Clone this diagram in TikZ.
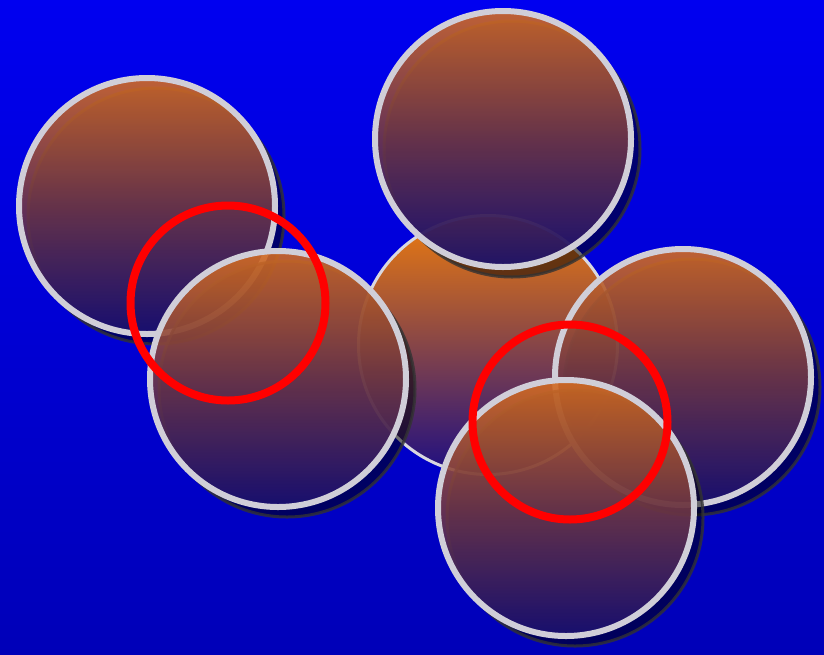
\documentclass[tikz,border=0pt]{standalone}
\usetikzlibrary{shadows}
\definecolor{bgTop}{RGB}{0,0,240}
\definecolor{bgBot}{RGB}{0,0,184}
\definecolor{ballTop}{RGB}{212,108,34}
\definecolor{ballMid}{RGB}{112,56,70}
\definecolor{ballBot}{RGB}{26,16,112}
\definecolor{hubTop}{RGB}{238,124,14}
\definecolor{hubBot}{RGB}{30,14,130}
\definecolor{rimGray}{RGB}{208,206,216}
\definecolor{ringRed}{RGB}{255,0,0}
\begin{document}
\begin{tikzpicture}[
	x=1pt, y=-1pt,
	ball/.style={ circle, inner sep=0pt, minimum size=256pt, top color=ballTop, bottom color=ballBot, middle color=ballMid, fill opacity=0.9, draw=rimGray, line width=6pt,
		drop shadow={ shadow xshift=9pt, shadow yshift=-10pt, fill=black, fill opacity=0.5, draw=black!80, draw opacity=0.8, line width=3pt } },
	hub/.style={ circle, inner sep=0pt, minimum size=259pt, top color=hubTop, bottom color=hubBot, draw=rimGray!80!white, line width=3pt },
	ring/.style={ circle, inner sep=0pt, minimum size=195pt, draw=ringRed, line width=8pt }
]

\fill[top color=bgTop, bottom color=bgBot] (0,0) rectangle (824,654);
\useasboundingbox (0,0) rectangle (824,654);

\node at (488,345) (hubC) [hub] {};
\node at (147,206) (ballA) [ball] {};
\node at (503,139) (ballB) [ball] {};
\node at (278,379) (ballD) [ball] {};
\node at (683,377) (ballE) [ball] {};
\node at (566,508) (ballF) [ball] {};

\node at (228,303) (ringL) [ring] {};
\node at (570,422) (ringR) [ring] {};

\end{tikzpicture}
\end{document}
